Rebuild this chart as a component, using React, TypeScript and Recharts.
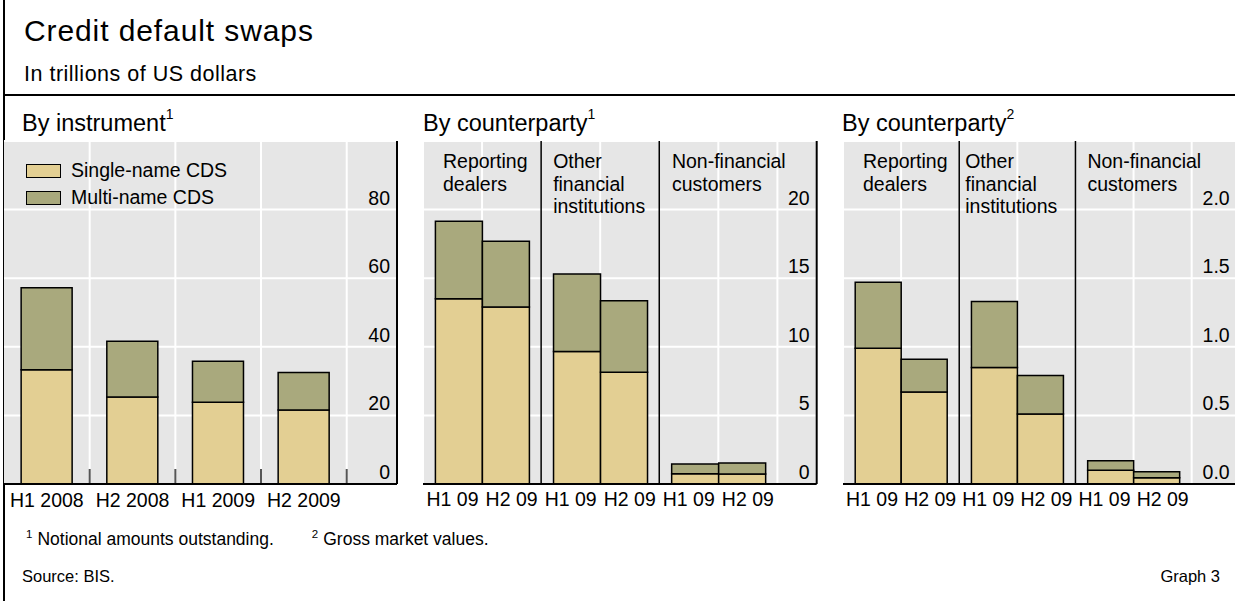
import React from 'react';
import { BarChart, Bar, XAxis, YAxis, CartesianGrid, ReferenceLine, Legend } from 'recharts';

// ---------- data ----------
const instrumentPeriods = ['H1 2008', 'H2 2008', 'H1 2009', 'H2 2009'];
const instrumentSingle = [33.3, 25.4, 23.8, 21.6];
const instrumentMulti = [23.9, 16.2, 12.0, 10.9];
const instrumentTicks = [0, 20, 40, 60, 80];

const counterpartyGroups = ['Reporting dealers', 'Other financial institutions', 'Non-financial customers'];
const groupLabelLines = [['Reporting', 'dealers'], ['Other', 'financial', 'institutions'], ['Non-financial', 'customers']];
const halfYearLabels = ['H1 09', 'H2 09'];

const notionalH1Single = [13.5, 9.65, 0.75];
const notionalH1Multi = [5.65, 5.65, 0.71];
const notionalH2Single = [12.9, 8.15, 0.73];
const notionalH2Multi = [4.8, 5.2, 0.8];
const notionalTicks = [0, 5, 10, 15, 20];

const grossH1Single = [0.99, 0.85, 0.1];
const grossH1Multi = [0.48, 0.48, 0.07];
const grossH2Single = [0.67, 0.51, 0.045];
const grossH2Multi = [0.24, 0.28, 0.045];
const grossTicks = [0, 0.5, 1, 1.5, 2];

const seriesNames = ['Single-name CDS', 'Multi-name CDS'];

// ---------- style / layout ----------
const FONT = '"Liberation Sans", Arial, Helvetica, sans-serif';
const SINGLE_FILL = '#e3cf93';
const MULTI_FILL = '#a9a97d';
const SERIES_FILLS = [SINGLE_FILL, MULTI_FILL];
const PLOT_BG = '#e6e6e6';
const TXT = 19.5;

const PLOT_TOP = 141;
const PLOT_BOTTOM = 484;
const M = 4;
const X_AXIS_H = 34;

const P1 = { left: 4, right: 397, padRight: 50.3 };
const P2 = { left: 423.3, right: 817, padRight: 39.3, dx: [20, 12, 12.7] };
const P3 = { left: 843.3, right: 1237, padRight: 45, dx: [20, 6, 12] };

const instrumentData = instrumentPeriods.map((p, i) => ({
  period: p,
  single: instrumentSingle[i],
  multi: instrumentMulti[i],
}));

const notionalData = counterpartyGroups.map((g, i) => ({
  group: g,
  h1s: notionalH1Single[i],
  h1m: notionalH1Multi[i],
  h2s: notionalH2Single[i],
  h2m: notionalH2Multi[i],
}));

const grossData = counterpartyGroups.map((g, i) => ({
  group: g,
  h1s: grossH1Single[i],
  h1m: grossH1Multi[i],
  h2s: grossH2Single[i],
  h2m: grossH2Multi[i],
}));

const border = { stroke: '#000', strokeWidth: 2 };

function chartBox(p: { left: number; right: number }) {
  return {
    left: p.left - M,
    top: PLOT_TOP - M,
    width: p.right - p.left + 2 * M,
    height: PLOT_BOTTOM - PLOT_TOP + M + X_AXIS_H,
  };
}

const makeYTick = (digits: number) => (props: any) => {
  const { x, y, payload } = props;
  return (
    <text x={x} y={y - 5} textAnchor="end" fontSize={TXT} fontFamily={FONT} fill="#000">
      {Number(payload.value).toFixed(digits)}
    </text>
  );
};

const instrumentBand = (P1.right - P1.left - P1.padRight) / instrumentPeriods.length;

const InstrumentTick = (props: any) => {
  const { x, y, payload } = props;
  const edge = x + instrumentBand / 2;
  return (
    <g>
      <line x1={edge} x2={edge} y1={y - 1} y2={y - 15} stroke="#555" strokeWidth={2} />
      <text x={x} y={y + 22.5} textAnchor="middle" fontSize={TXT} fontFamily={FONT} fill="#000">
        {payload.value}
      </text>
    </g>
  );
};

const makeGroupTick = (p: { left: number; right: number; padRight: number }) => (props: any) => {
  const { x, y } = props;
  const band = (p.right - p.left - p.padRight) / counterpartyGroups.length;
  return (
    <g>
      {halfYearLabels.map((l, i) => (
        <text
          key={l}
          x={x + (i === 0 ? -band / 4 : band / 4)}
          y={y + 22.5}
          textAnchor="middle"
          fontSize={TXT}
          fontFamily={FONT}
          fill="#000"
        >
          {l}
        </text>
      ))}
    </g>
  );
};

const makeGroupLabel = (lines: string[], dx: number) => (props: any) => {
  const vb = props.viewBox || {};
  const x0 = (vb.x ?? 0) + dx;
  const y0 = Math.min(vb.y ?? 0, (vb.y ?? 0) + (vb.height ?? 0)) + 27.3;
  return (
    <text x={x0} y={y0} fontSize={TXT} fontFamily={FONT} fill="#000">
      {lines.map((l, i) => (
        <tspan key={i} x={x0} dy={i === 0 ? 0 : 22.5}>
          {l}
        </tspan>
      ))}
    </text>
  );
};

const renderLegend = (props: any) => {
  const payload = [...(props.payload || [])].sort(
    (a: any, b: any) => seriesNames.indexOf(a.value) - seriesNames.indexOf(b.value)
  );
  return (
    <div style={{ fontFamily: FONT, fontSize: TXT, color: '#000' }}>
      {payload.map((e: any, i: number) => (
        <div key={i} style={{ display: 'flex', alignItems: 'center', height: 26.7, whiteSpace: 'nowrap' }}>
          <span
            style={{
              display: 'inline-block',
              width: 35,
              height: 14,
              background: SERIES_FILLS[seriesNames.indexOf(e.value)] ?? e.color,
              border: '1.5px solid #000',
              boxSizing: 'border-box',
              marginRight: 10,
            }}
          />
          <span>{e.value}</span>
        </div>
      ))}
    </div>
  );
};

function InstrumentPanel() {
  const b = chartBox(P1);
  return (
    <div style={{ position: 'absolute', left: b.left, top: b.top }}>
      <BarChart
        width={b.width}
        height={b.height}
        data={instrumentData}
        margin={{ top: M, right: M, left: M, bottom: 0 }}
        barCategoryGap="20%"
      >
        <CartesianGrid fill={PLOT_BG} fillOpacity={1} stroke="#fff" strokeWidth={2} vertical={false} />
        {instrumentPeriods.map((p) => (
          <ReferenceLine key={p} x={p} position="end" stroke="#fff" strokeWidth={2} />
        ))}
        <Bar dataKey="single" name={seriesNames[0]} stackId="a" fill={SINGLE_FILL} stroke="#000" strokeWidth={1.5} isAnimationActive={false} />
        <Bar dataKey="multi" name={seriesNames[1]} stackId="a" fill={MULTI_FILL} stroke="#000" strokeWidth={1.5} isAnimationActive={false} />
        <XAxis
          dataKey="period"
          height={X_AXIS_H}
          interval={0}
          tickLine={false}
          tickSize={0}
          tickMargin={0}
          axisLine={border}
          padding={{ left: 0, right: P1.padRight }}
          tick={InstrumentTick}
        />
        <XAxis xAxisId="top" orientation="top" dataKey="period" height={0} tick={false} tickLine={false} axisLine={border} />
        <YAxis yAxisId="left" orientation="left" width={0} tick={false} tickLine={false} axisLine={border} />
        <YAxis
          orientation="right"
          mirror
          width={60}
          domain={[0, 100]}
          ticks={instrumentTicks}
          interval={0}
          tickLine={false}
          tickSize={0}
          tickMargin={7}
          axisLine={border}
          tick={makeYTick(0)}
        />
        <Legend
          layout="vertical"
          align="center"
          verticalAlign="middle"
          content={renderLegend}
          wrapperStyle={{ left: 26, top: 20.6, width: 'auto', height: 'auto' }}
        />
      </BarChart>
    </div>
  );
}

function CounterpartyPanel(props: {
  p: { left: number; right: number; padRight: number; dx: number[] };
  data: any[];
  max: number;
  ticks: number[];
  digits: number;
}) {
  const { p, data, max, ticks, digits } = props;
  const b = chartBox(p);
  return (
    <div style={{ position: 'absolute', left: b.left, top: b.top }}>
      <BarChart
        width={b.width}
        height={b.height}
        data={data}
        margin={{ top: M, right: M, left: M, bottom: 0 }}
        barCategoryGap="10.5%"
        barGap={0}
      >
        <CartesianGrid fill={PLOT_BG} fillOpacity={1} stroke="#fff" strokeWidth={2} />
        <Bar dataKey="h1s" stackId="h1" fill={SINGLE_FILL} stroke="#000" strokeWidth={1.5} isAnimationActive={false} />
        <Bar dataKey="h1m" stackId="h1" fill={MULTI_FILL} stroke="#000" strokeWidth={1.5} isAnimationActive={false} />
        <Bar dataKey="h2s" stackId="h2" fill={SINGLE_FILL} stroke="#000" strokeWidth={1.5} isAnimationActive={false} />
        <Bar dataKey="h2m" stackId="h2" fill={MULTI_FILL} stroke="#000" strokeWidth={1.5} isAnimationActive={false} />
        {counterpartyGroups.map((g, i) => (
          <ReferenceLine
            key={'sep' + g}
            x={g}
            position="end"
            stroke={i < counterpartyGroups.length - 1 ? '#000' : '#fff'}
            strokeWidth={i < counterpartyGroups.length - 1 ? 1.5 : 2}
          />
        ))}
        {counterpartyGroups.map((g, i) => (
          <ReferenceLine
            key={'lab' + g}
            x={g}
            position="start"
            stroke="none"
            label={makeGroupLabel(groupLabelLines[i], p.dx[i])}
          />
        ))}
        <XAxis
          dataKey="group"
          height={X_AXIS_H}
          interval={0}
          tickLine={false}
          tickSize={0}
          tickMargin={0}
          axisLine={border}
          padding={{ left: 0, right: p.padRight }}
          tick={makeGroupTick(p)}
        />
        <XAxis xAxisId="top" orientation="top" dataKey="group" height={0} tick={false} tickLine={false} axisLine={border} />
        <YAxis yAxisId="left" orientation="left" width={0} tick={false} tickLine={false} axisLine={border} />
        <YAxis
          orientation="right"
          mirror
          width={60}
          domain={[0, max]}
          ticks={ticks}
          interval={0}
          tickLine={false}
          tickSize={0}
          tickMargin={7}
          axisLine={border}
          tick={makeYTick(digits)}
        />
      </BarChart>
    </div>
  );
}

export default function App() {
  return (
    <div
      style={{
        position: 'absolute',
        left: 0,
        top: 0,
        width: 1235,
        height: 601,
        overflow: 'hidden',
        background: '#fff',
        fontFamily: FONT,
      }}
    >
      <svg width={1235} height={601} style={{ position: 'absolute', left: 0, top: 0 }} fontFamily={FONT}>
        <line x1={4} x2={4} y1={0} y2={601} stroke="#000" strokeWidth={2} />
        <line x1={3} x2={1235} y1={95} y2={95} stroke="#000" strokeWidth={2} />
        <text x={24} y={41} fontSize={30} letterSpacing={0.9}>Credit default swaps</text>
        <text x={24} y={81} fontSize={21.5} letterSpacing={0.5}>In trillions of US dollars</text>
        <text x={22} y={131} fontSize={23.5}>
          By instrument<tspan fontSize={14} dy={-12}>1</tspan>
        </text>
        <text x={423} y={131} fontSize={23.5}>
          By counterparty<tspan fontSize={14} dy={-12}>1</tspan>
        </text>
        <text x={842} y={131} fontSize={23.5}>
          By counterparty<tspan fontSize={14} dy={-12}>2</tspan>
        </text>
        <text x={26} y={545} fontSize={17.5}>
          <tspan fontSize={11.5} dy={-7}>1</tspan>
          <tspan dx={5} dy={7}>Notional amounts outstanding.</tspan>
          <tspan dx={38} fontSize={11.5} dy={-7}>2</tspan>
          <tspan dx={5} dy={7}>Gross market values.</tspan>
        </text>
        <text x={22} y={582} fontSize={16.5}>Source: BIS.</text>
        <text x={1220} y={582} fontSize={16.5} textAnchor="end">Graph 3</text>
      </svg>
      <InstrumentPanel />
      <CounterpartyPanel p={P2} data={notionalData} max={25} ticks={notionalTicks} digits={0} />
      <CounterpartyPanel p={P3} data={grossData} max={2.5} ticks={grossTicks} digits={1} />
    </div>
  );
}
